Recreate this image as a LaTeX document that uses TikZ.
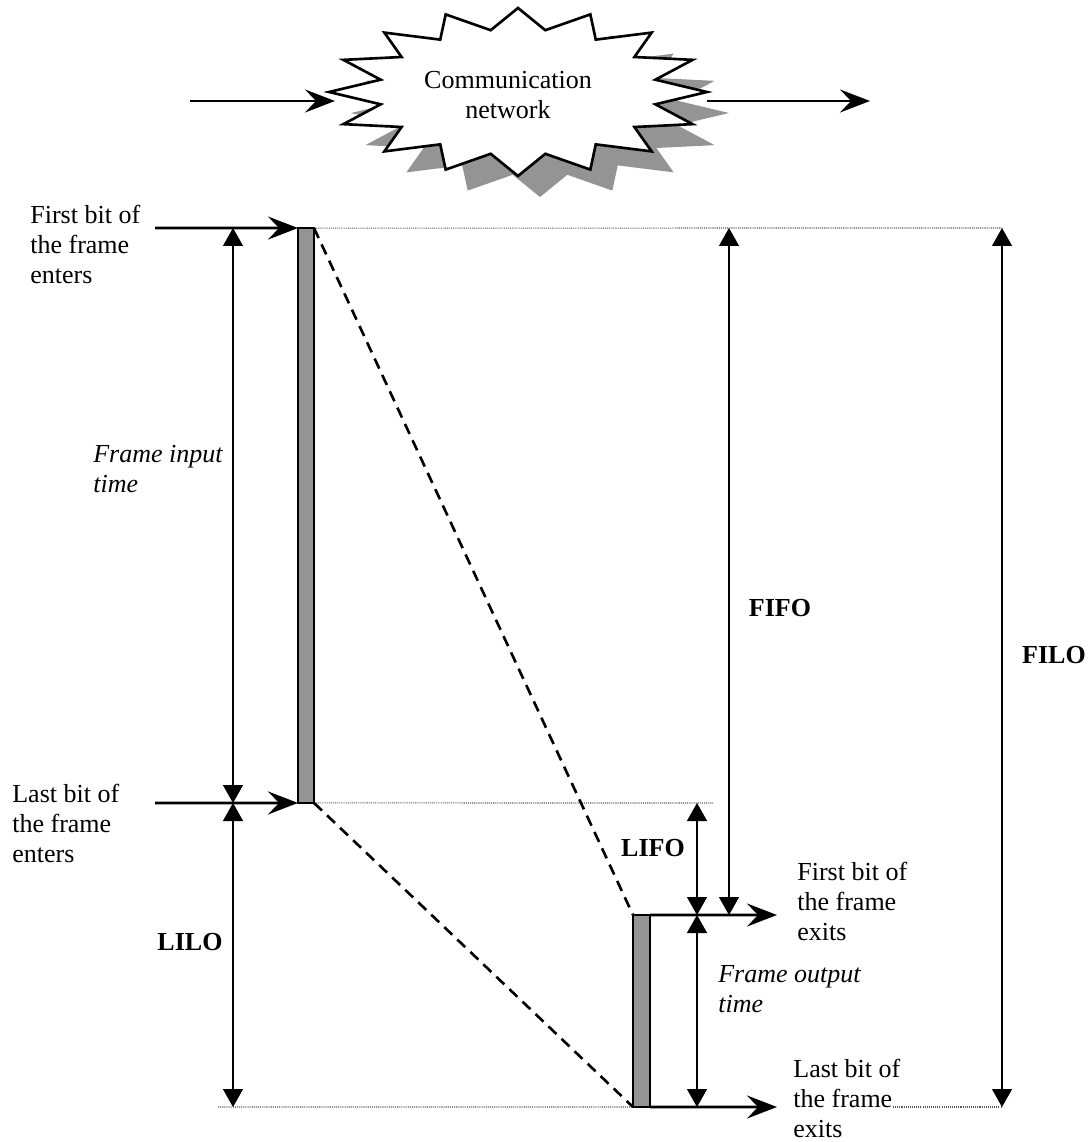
\documentclass[tikz,border=0pt]{standalone}
\usepackage{fontspec}
\setmainfont{Liberation Serif}
\usetikzlibrary{arrows.meta}
\definecolor{bargray}{gray}{0.58}
\definecolor{guidegray}{gray}{0.35}
\tikzstyle{bar} = [rectangle, draw = black, line width = 1.4pt, fill = bargray, outer sep = 0pt, inner sep = 0pt]
\tikzstyle{flow} = [line width = 1.6pt, -{Stealth[length = 0.6cm, width = 0.46cm, inset = 0.22cm]}]
\tikzstyle{dimarrow} = [line width = 0.8pt, {Triangle[length = 0.36cm, width = 0.4cm]}-{Triangle[length = 0.36cm, width = 0.4cm]}]
\tikzstyle{guideline} = [line width = 0.6pt, guidegray, dash pattern = on 0.6pt off 0.6pt]
\tikzstyle{slopeline} = [line width = 1.5pt, dash pattern = on 0.22cm off 0.14cm]
\tikzstyle{notetext} = [inner sep = 0pt, anchor = north west, align = left, font = \fontsize{14.8pt}{17pt}\selectfont]
\tikzstyle{noteital} = [notetext, font = \fontsize{14.8pt}{17pt}\selectfont\itshape]
\tikzstyle{fotag} = [inner sep = 0pt, font = \fontsize{14.8pt}{17pt}\selectfont\bfseries]

\begin{document}
\begin{tikzpicture}[x = 0.02cm, y = -0.02cm]
    \useasboundingbox (0,0) rectangle (1089,1142);

    % network cloud and its shadow
    \fill[bargray] (729,113) \foreach \a in {0,22.5,...,337.5} {
        -- ({540+189*cos(\a)},{113+84*sin(\a)}) -- ({540+140*cos(\a+11.25)},{113+63*sin(\a+11.25)})} -- cycle;
    \draw[line width = 1.5pt, fill = white] (707,92) \foreach \a in {0,22.5,...,337.5} {
        -- ({518+189*cos(\a)},{92+84*sin(\a)}) -- ({518+140*cos(\a+11.25)},{92+63*sin(\a+11.25)})} -- cycle;
    \node(cloud)[notetext, anchor = north, align = center] at (508,71) {Communication\\network};

    \coordinate(netA) at (190,101);
    \coordinate(netB) at (335,101);
    \coordinate(netC) at (707,101);
    \coordinate(netD) at (870,101);
    \draw[flow](netA)--(netB);
    \draw[flow](netC)--(netD);

    % frame bars
    \node(inbar)[bar, minimum width = 0.32cm, minimum height = 11.5cm] at (306,515.5) {};
    \node(outbar)[bar, minimum width = 0.34cm, minimum height = 3.84cm] at (641.5,1011) {};

    \coordinate(inF) at (155,228);
    \coordinate(inL) at (155,803);
    \coordinate(outF) at (777,915);
    \coordinate(outL) at (777,1107);

    \coordinate(fitT) at (233,228);
    \coordinate(fitB) at (233,803);
    \coordinate(liloB) at (233,1107);
    \coordinate(lifoT) at (697,803);
    \coordinate(lifoB) at (697,915);
    \coordinate(fotB) at (697,1107);
    \coordinate(fifoT) at (729,228);
    \coordinate(fifoB) at (729,915);
    \coordinate(filoT) at (1002,228);
    \coordinate(filoB) at (1002,1107);
    \coordinate(midR) at (713,803);
    \coordinate(botL) at (218,1107);
    \coordinate(botR) at (893,1107);

    % guide lines
    \draw[guideline](inbar.north east)--(filoT);
    \draw[guideline](inbar.south east)--(midR);
    \draw[guideline](botL)--(outbar.south west);
    \draw[guideline](botR)--(filoB);

    \draw[slopeline](inbar.north east)--(outbar.north west);
    \draw[slopeline](inbar.south east)--(outbar.south west);

    \draw[flow](inF)--(inbar.north west);
    \draw[flow](inL)--(inbar.south west);
    \draw[flow](outbar.north east)--(outF);
    \draw[flow](outbar.south east)--(outL);

    \draw[dimarrow](fitT)--(fitB);
    \draw[dimarrow](fitB)--(liloB);
    \draw[dimarrow](lifoT)--(lifoB);
    \draw[dimarrow](lifoB)--(fotB);
    \draw[dimarrow](fifoT)--(fifoB);
    \draw[dimarrow](filoT)--(filoB);

    % texts
    \node(enterF)[notetext] at (30,205) {First bit of\\the frame\\enters};
    \node(enterL)[notetext] at (12,784) {Last bit of\\the frame\\enters};
    \node(exitF)[notetext] at (797,862) {First bit of\\the frame\\exits};
    \node(exitL)[notetext] at (793,1059) {Last bit of\\the frame\\exits};
    \node(fit)[noteital] at (93,445) {Frame input\\time};
    \node(fot)[noteital] at (718,965) {Frame output\\time};

    \node(lilo)[fotag] at (190,942) {LILO};
    \node(lifo)[fotag] at (653,848) {LIFO};
    \node(fifo)[fotag] at (780,608) {FIFO};
    \node(filo)[fotag] at (1054,655) {FILO};
\end{tikzpicture}
\end{document}
